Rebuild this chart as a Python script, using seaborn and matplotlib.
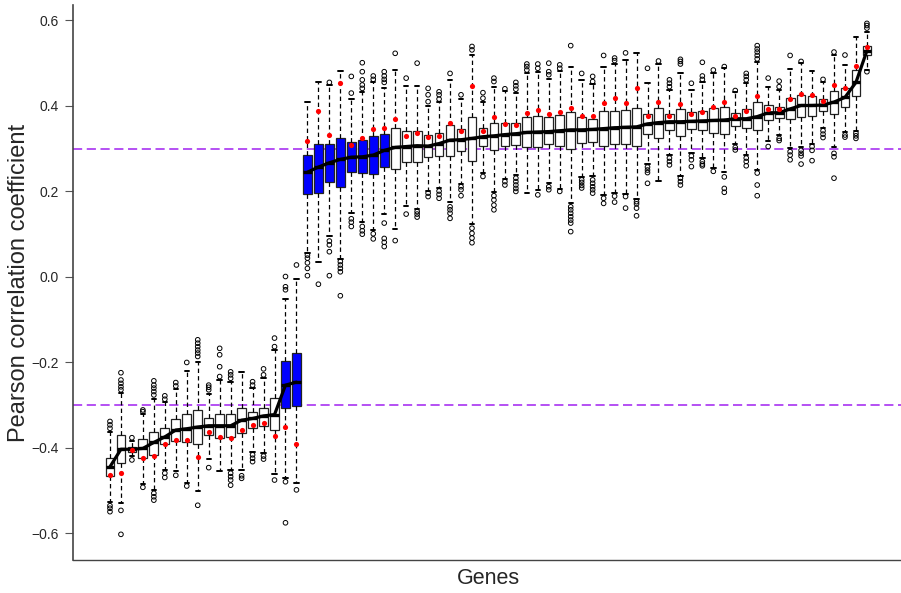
import numpy as np
import pandas as pd
import matplotlib
matplotlib.use("Agg")
import matplotlib.pyplot as plt
import seaborn as sns

# ---- data ----
whisker_low = [-0.527, -0.528, -0.419, -0.485, -0.498, -0.451, -0.455, -0.483, -0.501, -0.426,
               -0.453, -0.451, -0.451, -0.409, -0.411, -0.461, -0.471, -0.481,
               0.057, 0.036, 0.096, 0.043, 0.149, 0.128, 0.110, 0.147, 0.112, 0.167,
               0.159, 0.201, 0.209, 0.175, 0.218, 0.123, 0.243, 0.198, 0.229, 0.238,
               0.197, 0.204, 0.219, 0.206, 0.174, 0.234, 0.235, 0.192, 0.197, 0.193,
               0.182, 0.264, 0.225, 0.285, 0.237, 0.289, 0.278, 0.254, 0.246, 0.311,
               0.285, 0.249, 0.318, 0.332, 0.301, 0.303, 0.311, 0.349, 0.303, 0.338,
               0.342, 0.484]
q1 = [-0.465, -0.436, -0.410, -0.423, -0.416, -0.391, -0.383, -0.387, -0.390, -0.370,
      -0.376, -0.374, -0.364, -0.354, -0.349, -0.359, -0.307, -0.303,
      0.193, 0.196, 0.221, 0.210, 0.246, 0.242, 0.241, 0.257, 0.253, 0.268,
      0.268, 0.280, 0.284, 0.282, 0.295, 0.272, 0.306, 0.297, 0.307, 0.308,
      0.304, 0.303, 0.310, 0.307, 0.300, 0.313, 0.316, 0.307, 0.310, 0.310,
      0.307, 0.334, 0.326, 0.343, 0.330, 0.347, 0.343, 0.336, 0.334, 0.354,
      0.349, 0.344, 0.367, 0.371, 0.370, 0.375, 0.376, 0.389, 0.380, 0.398,
      0.424, 0.519]
median = [-0.444, -0.403, -0.403, -0.401, -0.387, -0.374, -0.358, -0.355, -0.351, -0.348,
          -0.348, -0.348, -0.335, -0.331, -0.325, -0.322, -0.253, -0.246,
          0.245, 0.257, 0.267, 0.275, 0.280, 0.281, 0.285, 0.296, 0.303, 0.305,
          0.307, 0.306, 0.312, 0.320, 0.321, 0.324, 0.328, 0.330, 0.333, 0.335,
          0.338, 0.339, 0.340, 0.342, 0.344, 0.344, 0.345, 0.347, 0.349, 0.350,
          0.351, 0.358, 0.361, 0.363, 0.363, 0.364, 0.365, 0.366, 0.367, 0.370,
          0.370, 0.375, 0.384, 0.384, 0.393, 0.401, 0.401, 0.402, 0.409, 0.420,
          0.455, 0.529]
q3 = [-0.423, -0.370, -0.397, -0.380, -0.362, -0.353, -0.333, -0.321, -0.311, -0.331,
      -0.321, -0.321, -0.306, -0.315, -0.306, -0.284, -0.197, -0.178,
      0.285, 0.310, 0.312, 0.326, 0.316, 0.320, 0.329, 0.334, 0.348, 0.342,
      0.342, 0.331, 0.336, 0.355, 0.346, 0.373, 0.348, 0.360, 0.360, 0.359,
      0.373, 0.377, 0.374, 0.378, 0.385, 0.374, 0.370, 0.387, 0.388, 0.391,
      0.395, 0.381, 0.394, 0.382, 0.392, 0.385, 0.388, 0.394, 0.397, 0.384,
      0.392, 0.408, 0.402, 0.397, 0.419, 0.426, 0.423, 0.416, 0.436, 0.441,
      0.483, 0.540]
whisker_high = [-0.363, -0.272, -0.384, -0.320, -0.285, -0.293, -0.263, -0.221, -0.198, -0.274,
                -0.241, -0.245, -0.223, -0.259, -0.237, -0.171, -0.051, -0.005,
                0.408, 0.456, 0.448, 0.482, 0.417, 0.433, 0.455, 0.443, 0.484, 0.447,
                0.447, 0.400, 0.408, 0.461, 0.416, 0.518, 0.408, 0.444, 0.435, 0.431,
                0.476, 0.480, 0.464, 0.481, 0.492, 0.461, 0.451, 0.492, 0.498, 0.508,
                0.524, 0.453, 0.498, 0.437, 0.476, 0.437, 0.455, 0.476, 0.488, 0.432,
                0.453, 0.502, 0.445, 0.437, 0.487, 0.501, 0.482, 0.457, 0.520, 0.496,
                0.562, 0.572]
red_points = [-0.464, -0.458, -0.405, -0.423, -0.418, -0.390, -0.381, -0.381, -0.421, -0.363,
              -0.374, -0.376, -0.358, -0.347, -0.341, -0.372, -0.350, -0.391,
              0.317, 0.388, 0.332, 0.453, 0.309, 0.324, 0.347, 0.349, 0.370, 0.330,
              0.336, 0.327, 0.329, 0.359, 0.342, 0.446, 0.342, 0.374, 0.357, 0.356,
              0.384, 0.390, 0.382, 0.386, 0.395, 0.377, 0.376, 0.406, 0.418, 0.406,
              0.443, 0.376, 0.409, 0.376, 0.405, 0.381, 0.385, 0.397, 0.408, 0.377,
              0.388, 0.423, 0.393, 0.392, 0.417, 0.429, 0.426, 0.412, 0.448, 0.441,
              0.494, 0.537]
outliers = [
    [-0.354, -0.346, -0.338, -0.535, -0.541, -0.549],
    [-0.264, -0.257, -0.249, -0.241, -0.224, -0.546, -0.602],
    [-0.376, -0.428],
    [-0.311, -0.315, -0.492],
    [-0.276, -0.268, -0.260, -0.253, -0.243, -0.506, -0.514, -0.522],
    [-0.286, -0.278, -0.459, -0.469],
    [-0.255, -0.247, -0.464],
    [-0.200, -0.489],
    [-0.186, -0.178, -0.171, -0.163, -0.155, -0.147, -0.534],
    [-0.264, -0.258, -0.253, -0.446],
    [-0.233, -0.210, -0.182, -0.167],
    [-0.237, -0.229, -0.222, -0.459, -0.467, -0.475, -0.487],
    [-0.465, -0.471],
    [-0.253, -0.245, -0.416, -0.424, -0.432],
    [-0.229, -0.215, -0.419, -0.426],
    [-0.163, -0.143, -0.475],
    [-0.030, -0.023, 0.001, -0.479, -0.575],
    [0.028, -0.498],
    [0.051, 0.044, 0.033, 0.020, 0.003],
    [-0.017],
    [0.455, 0.084, 0.075, 0.059, 0.003],
    [0.036, 0.028, 0.020, 0.012, -0.044],
    [0.430, 0.469, 0.136, 0.128, 0.118],
    [0.441, 0.449, 0.461, 0.480, 0.501, 0.118, 0.108, 0.100],
    [0.462, 0.470, 0.101, 0.089],
    [0.455, 0.462, 0.470, 0.480, 0.126, 0.090, 0.081, 0.071],
    [0.523, 0.085],
    [0.465, 0.147],
    [0.500, 0.153, 0.147, 0.140],
    [0.410, 0.426, 0.441, 0.196, 0.188],
    [0.416, 0.426, 0.433, 0.201, 0.193, 0.184],
    [0.476, 0.164, 0.157, 0.149, 0.137],
    [0.426, 0.211, 0.204, 0.190],
    [0.531, 0.539, 0.114, 0.102, 0.091, 0.080],
    [0.418, 0.431, 0.235],
    [0.457, 0.465, 0.190, 0.180, 0.168, 0.157],
    [0.440, 0.223, 0.215],
    [0.439, 0.447, 0.455, 0.231, 0.223, 0.215, 0.207, 0.200],
    [0.484, 0.492, 0.498],
    [0.488, 0.498, 0.192],
    [0.473, 0.480, 0.500, 0.211, 0.204],
    [0.488, 0.496, 0.200],
    [0.541, 0.164, 0.157, 0.149, 0.141, 0.133, 0.126, 0.106],
    [0.476, 0.227, 0.221, 0.214, 0.208],
    [0.457, 0.469, 0.227, 0.219, 0.211, 0.204, 0.196],
    [0.518, 0.184, 0.172],
    [0.506, 0.512, 0.189, 0.175],
    [0.524, 0.188, 0.161],
    [0.176, 0.171, 0.161, 0.143],
    [0.488, 0.257, 0.250, 0.244, 0.219],
    [0.505],
    [0.445, 0.453, 0.461, 0.278, 0.270, 0.262],
    [0.498, 0.504, 0.509, 0.231, 0.223, 0.215],
    [0.453, 0.283, 0.274, 0.258],
    [0.462, 0.470, 0.502, 0.270, 0.264, 0.260],
    [0.484, 0.247],
    [0.492, 0.234, 0.207, 0.198],
    [0.436, 0.303, 0.297],
    [0.461, 0.469, 0.476, 0.278, 0.270, 0.260],
    [0.510, 0.518, 0.526, 0.533, 0.541, 0.243, 0.215, 0.190],
    [0.465, 0.305],
    [0.445, 0.458, 0.324, 0.319],
    [0.518, 0.293, 0.285, 0.274],
    [0.504, 0.296, 0.289, 0.283, 0.264],
    [0.305, 0.296, 0.272],
    [0.462, 0.342, 0.334, 0.326],
    [0.526, 0.289, 0.281, 0.231],
    [0.519, 0.332, 0.327],
    [0.336, 0.330, 0.324],
    [0.582, 0.588, 0.593, 0.480],
]
highlighted = [16, 17, 18, 19, 20, 21, 22, 23, 24, 25]
n_negative = 18
thresholds = [0.3, -0.3]
yticks = [-0.6, -0.4, -0.2, 0.0, 0.2, 0.4, 0.6]

# ---- build long tables ----
n = len(median)
genes = list(range(n))
rows = []
for g in genes:
    for v in (whisker_low[g], q1[g], median[g], q3[g], whisker_high[g]):
        rows.append((g, v))
box_df = pd.DataFrame(rows, columns=["gene", "value"])
palette = {g: ("#0000FF" if g in highlighted else "white") for g in genes}

out_df = pd.DataFrame([(g, v) for g in genes for v in outliers[g]], columns=["gene", "value"])
med_df = pd.DataFrame({"gene": genes, "value": median,
                       "group": ["neg" if g < n_negative else "pos" for g in genes]})
red_df = pd.DataFrame({"gene": genes, "value": red_points})

# ---- figure ----
sns.set_style("ticks")
plt.rcParams["font.family"] = ["Liberation Sans", "DejaVu Sans"]

W, H = 901, 593
fig = plt.figure(figsize=(W / 100, H / 100), dpi=100)
ax = fig.add_axes([73 / W, 1 - 560 / H, (903 - 73) / W, 555 / H])

sns.boxplot(data=box_df, x="gene", y="value", hue="gene", palette=palette, legend=False,
            whis=(0, 100), width=0.8, saturation=1, showfliers=False,
            linecolor="#222222", linewidth=0.9,
            whiskerprops=dict(linestyle=(0, (3.5, 2.5)), color="black", linewidth=0.9),
            capprops=dict(color="black", linewidth=1.4),
            medianprops=dict(color="black", linewidth=2.4),
            ax=ax)

for t in thresholds:
    ax.axhline(t, color="#A020F0", linestyle=(0, (6, 3)), linewidth=1.1, zorder=1)

sns.scatterplot(data=out_df, x="gene", y="value", marker="o", s=11,
                facecolor="none", edgecolor="black", linewidth=0.7, ax=ax, zorder=3)
for grp, sub in med_df.groupby("group"):
    sns.lineplot(data=sub, x="gene", y="value", color="black", linewidth=2.3, ax=ax, zorder=4)
sns.scatterplot(data=red_df, x="gene", y="value", color="red", s=14, linewidth=0,
                ax=ax, zorder=5)

ax.set_xlim(-3.37, 72.29)
ax.set_ylim(-0.662, 0.636)
ax.set_xticks([])
ax.set_yticks(yticks)
ax.set_yticklabels([f"{t:.1f}".replace("-", "\u2212") for t in yticks])
ax.tick_params(axis="y", length=6, width=0.8, labelsize=10, pad=4, color="#555555")
ax.set_xlabel("Genes", fontsize=15.5, labelpad=6)
ax.set_ylabel("Pearson correlation coefficient", fontsize=17, labelpad=1)
for s in ["top", "right"]:
    ax.spines[s].set_visible(False)
ax.spines["left"].set_color("#444444")
ax.spines["bottom"].set_color("#444444")
ax.spines["left"].set_linewidth(1.2)
ax.spines["bottom"].set_linewidth(1.0)

fig.savefig("out.png", dpi=100)
